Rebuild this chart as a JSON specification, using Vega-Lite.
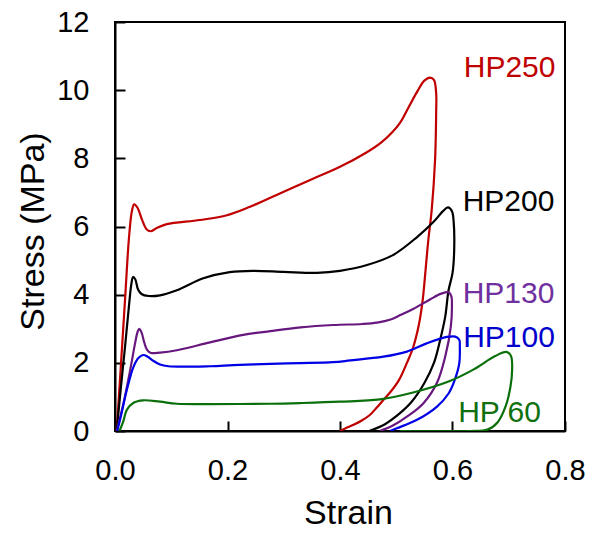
{
  "$schema": "https://vega.github.io/schema/vega-lite/v6.json",
  "width": 450,
  "height": 409,
  "autosize": {"type": "none"},
  "padding": {"left": 115, "top": 22, "right": 28, "bottom": 102},
  "background": "white",
  "config": {
    "view": {"stroke": "#000000", "strokeWidth": 2},
    "font": "Liberation Sans",
    "axis": {
      "grid": false,
      "domainColor": "#000000",
      "domainWidth": 2,
      "tickColor": "#000000",
      "tickWidth": 2,
      "labelColor": "#000000",
      "titleColor": "#000000",
      "labelFont": "Liberation Sans",
      "titleFont": "Liberation Sans",
      "labelFontSize": 29,
      "titleFontSize": 34,
      "titleFontWeight": "normal"
    }
  },
  "datasets": {
    "curves": [
      {"sample": "HP250", "i": 0, "strain": 0.003, "stress": 0},
      {"sample": "HP250", "i": 1, "strain": 0.010, "stress": 1.8},
      {"sample": "HP250", "i": 2, "strain": 0.018, "stress": 3.9},
      {"sample": "HP250", "i": 3, "strain": 0.025, "stress": 5.7},
      {"sample": "HP250", "i": 4, "strain": 0.030, "stress": 6.45},
      {"sample": "HP250", "i": 5, "strain": 0.034, "stress": 6.65},
      {"sample": "HP250", "i": 6, "strain": 0.040, "stress": 6.55},
      {"sample": "HP250", "i": 7, "strain": 0.048, "stress": 6.2},
      {"sample": "HP250", "i": 8, "strain": 0.056, "stress": 5.92},
      {"sample": "HP250", "i": 9, "strain": 0.063, "stress": 5.86},
      {"sample": "HP250", "i": 10, "strain": 0.075, "stress": 5.96},
      {"sample": "HP250", "i": 11, "strain": 0.092, "stress": 6.07},
      {"sample": "HP250", "i": 12, "strain": 0.151, "stress": 6.19},
      {"sample": "HP250", "i": 13, "strain": 0.199, "stress": 6.33},
      {"sample": "HP250", "i": 14, "strain": 0.240, "stress": 6.58},
      {"sample": "HP250", "i": 15, "strain": 0.293, "stress": 6.97},
      {"sample": "HP250", "i": 16, "strain": 0.353, "stress": 7.41},
      {"sample": "HP250", "i": 17, "strain": 0.400, "stress": 7.75},
      {"sample": "HP250", "i": 18, "strain": 0.447, "stress": 8.17},
      {"sample": "HP250", "i": 19, "strain": 0.473, "stress": 8.46},
      {"sample": "HP250", "i": 20, "strain": 0.492, "stress": 8.75},
      {"sample": "HP250", "i": 21, "strain": 0.507, "stress": 9.05},
      {"sample": "HP250", "i": 22, "strain": 0.522, "stress": 9.5},
      {"sample": "HP250", "i": 23, "strain": 0.537, "stress": 9.95},
      {"sample": "HP250", "i": 24, "strain": 0.550, "stress": 10.28},
      {"sample": "HP250", "i": 25, "strain": 0.560, "stress": 10.37},
      {"sample": "HP250", "i": 26, "strain": 0.567, "stress": 10.3},
      {"sample": "HP250", "i": 27, "strain": 0.571, "stress": 9.9},
      {"sample": "HP250", "i": 28, "strain": 0.571, "stress": 9.4},
      {"sample": "HP250", "i": 29, "strain": 0.569, "stress": 7.95},
      {"sample": "HP250", "i": 30, "strain": 0.563, "stress": 6.48},
      {"sample": "HP250", "i": 31, "strain": 0.557, "stress": 5.6},
      {"sample": "HP250", "i": 32, "strain": 0.552, "stress": 4.7},
      {"sample": "HP250", "i": 33, "strain": 0.547, "stress": 3.84},
      {"sample": "HP250", "i": 34, "strain": 0.540, "stress": 3.1},
      {"sample": "HP250", "i": 35, "strain": 0.530, "stress": 2.45},
      {"sample": "HP250", "i": 36, "strain": 0.519, "stress": 2.0},
      {"sample": "HP250", "i": 37, "strain": 0.505, "stress": 1.5},
      {"sample": "HP250", "i": 38, "strain": 0.490, "stress": 1.15},
      {"sample": "HP250", "i": 39, "strain": 0.477, "stress": 0.91},
      {"sample": "HP250", "i": 40, "strain": 0.465, "stress": 0.68},
      {"sample": "HP250", "i": 41, "strain": 0.453, "stress": 0.47},
      {"sample": "HP250", "i": 42, "strain": 0.438, "stress": 0.3},
      {"sample": "HP250", "i": 43, "strain": 0.424, "stress": 0.18},
      {"sample": "HP250", "i": 44, "strain": 0.410, "stress": 0.08},
      {"sample": "HP250", "i": 45, "strain": 0.400, "stress": 0},

      {"sample": "HP200", "i": 0, "strain": 0.003, "stress": 0},
      {"sample": "HP200", "i": 1, "strain": 0.010, "stress": 1.2},
      {"sample": "HP200", "i": 2, "strain": 0.018, "stress": 2.5},
      {"sample": "HP200", "i": 3, "strain": 0.025, "stress": 3.7},
      {"sample": "HP200", "i": 4, "strain": 0.029, "stress": 4.3},
      {"sample": "HP200", "i": 5, "strain": 0.032, "stress": 4.52},
      {"sample": "HP200", "i": 6, "strain": 0.036, "stress": 4.45},
      {"sample": "HP200", "i": 7, "strain": 0.041, "stress": 4.15},
      {"sample": "HP200", "i": 8, "strain": 0.047, "stress": 4.02},
      {"sample": "HP200", "i": 9, "strain": 0.060, "stress": 3.96},
      {"sample": "HP200", "i": 10, "strain": 0.080, "stress": 3.98},
      {"sample": "HP200", "i": 11, "strain": 0.110, "stress": 4.13},
      {"sample": "HP200", "i": 12, "strain": 0.157, "stress": 4.48},
      {"sample": "HP200", "i": 13, "strain": 0.204, "stress": 4.66},
      {"sample": "HP200", "i": 14, "strain": 0.245, "stress": 4.7},
      {"sample": "HP200", "i": 15, "strain": 0.300, "stress": 4.67},
      {"sample": "HP200", "i": 16, "strain": 0.359, "stress": 4.64},
      {"sample": "HP200", "i": 17, "strain": 0.400, "stress": 4.7},
      {"sample": "HP200", "i": 18, "strain": 0.448, "stress": 4.87},
      {"sample": "HP200", "i": 19, "strain": 0.494, "stress": 5.16},
      {"sample": "HP200", "i": 20, "strain": 0.537, "stress": 5.69},
      {"sample": "HP200", "i": 21, "strain": 0.566, "stress": 6.13},
      {"sample": "HP200", "i": 22, "strain": 0.583, "stress": 6.45},
      {"sample": "HP200", "i": 23, "strain": 0.592, "stress": 6.56},
      {"sample": "HP200", "i": 24, "strain": 0.599, "stress": 6.45},
      {"sample": "HP200", "i": 25, "strain": 0.602, "stress": 6.15},
      {"sample": "HP200", "i": 26, "strain": 0.603, "stress": 5.31},
      {"sample": "HP200", "i": 27, "strain": 0.600, "stress": 4.63},
      {"sample": "HP200", "i": 28, "strain": 0.593, "stress": 4.13},
      {"sample": "HP200", "i": 29, "strain": 0.587, "stress": 3.35},
      {"sample": "HP200", "i": 30, "strain": 0.578, "stress": 2.67},
      {"sample": "HP200", "i": 31, "strain": 0.567, "stress": 2.0},
      {"sample": "HP200", "i": 32, "strain": 0.550, "stress": 1.41},
      {"sample": "HP200", "i": 33, "strain": 0.527, "stress": 0.85},
      {"sample": "HP200", "i": 34, "strain": 0.505, "stress": 0.5},
      {"sample": "HP200", "i": 35, "strain": 0.480, "stress": 0.2},
      {"sample": "HP200", "i": 36, "strain": 0.452, "stress": 0},

      {"sample": "HP130", "i": 0, "strain": 0.003, "stress": 0},
      {"sample": "HP130", "i": 1, "strain": 0.015, "stress": 0.81},
      {"sample": "HP130", "i": 2, "strain": 0.027, "stress": 1.79},
      {"sample": "HP130", "i": 3, "strain": 0.036, "stress": 2.6},
      {"sample": "HP130", "i": 4, "strain": 0.040, "stress": 2.9},
      {"sample": "HP130", "i": 5, "strain": 0.043, "stress": 3.0},
      {"sample": "HP130", "i": 6, "strain": 0.047, "stress": 2.9},
      {"sample": "HP130", "i": 7, "strain": 0.052, "stress": 2.6},
      {"sample": "HP130", "i": 8, "strain": 0.057, "stress": 2.38},
      {"sample": "HP130", "i": 9, "strain": 0.064, "stress": 2.29},
      {"sample": "HP130", "i": 10, "strain": 0.080, "stress": 2.3},
      {"sample": "HP130", "i": 11, "strain": 0.110, "stress": 2.37},
      {"sample": "HP130", "i": 12, "strain": 0.169, "stress": 2.6},
      {"sample": "HP130", "i": 13, "strain": 0.228, "stress": 2.82},
      {"sample": "HP130", "i": 14, "strain": 0.276, "stress": 2.93},
      {"sample": "HP130", "i": 15, "strain": 0.330, "stress": 3.04},
      {"sample": "HP130", "i": 16, "strain": 0.388, "stress": 3.11},
      {"sample": "HP130", "i": 17, "strain": 0.440, "stress": 3.14},
      {"sample": "HP130", "i": 18, "strain": 0.466, "stress": 3.18},
      {"sample": "HP130", "i": 19, "strain": 0.490, "stress": 3.27},
      {"sample": "HP130", "i": 20, "strain": 0.507, "stress": 3.4},
      {"sample": "HP130", "i": 21, "strain": 0.530, "stress": 3.58},
      {"sample": "HP130", "i": 22, "strain": 0.560, "stress": 3.86},
      {"sample": "HP130", "i": 23, "strain": 0.580, "stress": 4.03},
      {"sample": "HP130", "i": 24, "strain": 0.593, "stress": 4.07},
      {"sample": "HP130", "i": 25, "strain": 0.598, "stress": 3.95},
      {"sample": "HP130", "i": 26, "strain": 0.599, "stress": 3.7},
      {"sample": "HP130", "i": 27, "strain": 0.597, "stress": 3.06},
      {"sample": "HP130", "i": 28, "strain": 0.587, "stress": 2.18},
      {"sample": "HP130", "i": 29, "strain": 0.572, "stress": 1.4},
      {"sample": "HP130", "i": 30, "strain": 0.548, "stress": 0.81},
      {"sample": "HP130", "i": 31, "strain": 0.519, "stress": 0.42},
      {"sample": "HP130", "i": 32, "strain": 0.494, "stress": 0.16},
      {"sample": "HP130", "i": 33, "strain": 0.471, "stress": 0},

      {"sample": "HP100", "i": 0, "strain": 0.004, "stress": 0},
      {"sample": "HP100", "i": 1, "strain": 0.010, "stress": 0.4},
      {"sample": "HP100", "i": 2, "strain": 0.021, "stress": 1.2},
      {"sample": "HP100", "i": 3, "strain": 0.033, "stress": 1.89},
      {"sample": "HP100", "i": 4, "strain": 0.042, "stress": 2.15},
      {"sample": "HP100", "i": 5, "strain": 0.050, "stress": 2.23},
      {"sample": "HP100", "i": 6, "strain": 0.058, "stress": 2.18},
      {"sample": "HP100", "i": 7, "strain": 0.068, "stress": 2.06},
      {"sample": "HP100", "i": 8, "strain": 0.080, "stress": 1.95},
      {"sample": "HP100", "i": 9, "strain": 0.095, "stress": 1.9},
      {"sample": "HP100", "i": 10, "strain": 0.169, "stress": 1.9},
      {"sample": "HP100", "i": 11, "strain": 0.210, "stress": 1.93},
      {"sample": "HP100", "i": 12, "strain": 0.276, "stress": 1.97},
      {"sample": "HP100", "i": 13, "strain": 0.329, "stress": 1.99},
      {"sample": "HP100", "i": 14, "strain": 0.388, "stress": 2.02},
      {"sample": "HP100", "i": 15, "strain": 0.418, "stress": 2.07},
      {"sample": "HP100", "i": 16, "strain": 0.477, "stress": 2.18},
      {"sample": "HP100", "i": 17, "strain": 0.519, "stress": 2.33},
      {"sample": "HP100", "i": 18, "strain": 0.554, "stress": 2.57},
      {"sample": "HP100", "i": 19, "strain": 0.590, "stress": 2.76},
      {"sample": "HP100", "i": 20, "strain": 0.605, "stress": 2.77},
      {"sample": "HP100", "i": 21, "strain": 0.612, "stress": 2.68},
      {"sample": "HP100", "i": 22, "strain": 0.613, "stress": 2.47},
      {"sample": "HP100", "i": 23, "strain": 0.612, "stress": 1.98},
      {"sample": "HP100", "i": 24, "strain": 0.604, "stress": 1.5},
      {"sample": "HP100", "i": 25, "strain": 0.593, "stress": 1.1},
      {"sample": "HP100", "i": 26, "strain": 0.572, "stress": 0.71},
      {"sample": "HP100", "i": 27, "strain": 0.536, "stress": 0.32},
      {"sample": "HP100", "i": 28, "strain": 0.501, "stress": 0.08},
      {"sample": "HP100", "i": 29, "strain": 0.489, "stress": 0},

      {"sample": "HP 60", "i": 0, "strain": 0.008, "stress": 0},
      {"sample": "HP 60", "i": 1, "strain": 0.015, "stress": 0.3},
      {"sample": "HP 60", "i": 2, "strain": 0.021, "stress": 0.62},
      {"sample": "HP 60", "i": 3, "strain": 0.033, "stress": 0.83},
      {"sample": "HP 60", "i": 4, "strain": 0.050, "stress": 0.9},
      {"sample": "HP 60", "i": 5, "strain": 0.080, "stress": 0.86},
      {"sample": "HP 60", "i": 6, "strain": 0.110, "stress": 0.8},
      {"sample": "HP 60", "i": 7, "strain": 0.169, "stress": 0.79},
      {"sample": "HP 60", "i": 8, "strain": 0.276, "stress": 0.8},
      {"sample": "HP 60", "i": 9, "strain": 0.329, "stress": 0.82},
      {"sample": "HP 60", "i": 10, "strain": 0.400, "stress": 0.86},
      {"sample": "HP 60", "i": 11, "strain": 0.471, "stress": 0.93},
      {"sample": "HP 60", "i": 12, "strain": 0.530, "stress": 1.13},
      {"sample": "HP 60", "i": 13, "strain": 0.593, "stress": 1.45},
      {"sample": "HP 60", "i": 14, "strain": 0.637, "stress": 1.8},
      {"sample": "HP 60", "i": 15, "strain": 0.676, "stress": 2.2},
      {"sample": "HP 60", "i": 16, "strain": 0.696, "stress": 2.32},
      {"sample": "HP 60", "i": 17, "strain": 0.704, "stress": 2.2},
      {"sample": "HP 60", "i": 18, "strain": 0.706, "stress": 1.8},
      {"sample": "HP 60", "i": 19, "strain": 0.703, "stress": 1.3},
      {"sample": "HP 60", "i": 20, "strain": 0.695, "stress": 0.75},
      {"sample": "HP 60", "i": 21, "strain": 0.680, "stress": 0.25},
      {"sample": "HP 60", "i": 22, "strain": 0.662, "stress": 0.04},
      {"sample": "HP 60", "i": 23, "strain": 0.630, "stress": 0},
      {"sample": "HP 60", "i": 24, "strain": 0.507, "stress": 0}
    ],
    "labels": [
      {"sample": "HP250", "strain": 0.620, "stress": 10.39},
      {"sample": "HP200", "strain": 0.618, "stress": 6.45},
      {"sample": "HP130", "strain": 0.618, "stress": 3.77},
      {"sample": "HP100", "strain": 0.619, "stress": 2.47},
      {"sample": "HP 60", "strain": 0.610, "stress": 0.25}
    ]
  },
  "layer": [
    {
      "data": {"name": "curves"},
      "mark": {"type": "line", "strokeWidth": 2.2, "interpolate": "catmull-rom", "clip": true},
      "encoding": {
        "x": {
          "field": "strain", "type": "quantitative",
          "scale": {"domain": [0, 0.8], "nice": false, "zero": false},
          "axis": {
            "title": "Strain",
            "values": [0, 0.2, 0.4, 0.6, 0.8],
            "format": ".1f",
            "tickSize": -10,
            "labelPadding": 35,
            "labelFlush": false,
            "labelOverlap": false,
            "titleX": 233,
            "titleY": 92,
            "titleAlign": "center",
            "titleBaseline": "alphabetic"
          }
        },
        "y": {
          "field": "stress", "type": "quantitative",
          "scale": {"domain": [0, 12], "nice": false},
          "axis": {
            "title": "Stress (MPa)",
            "values": [0, 2, 4, 6, 8, 10, 12],
            "format": "d",
            "tickSize": -10,
            "labelPadding": 36,
            "labelFlush": false,
            "labelOverlap": false,
            "titleX": -72,
            "titleY": 209,
            "titleAngle": -90,
            "titleAlign": "center",
            "titleBaseline": "alphabetic"
          }
        },
        "color": {
          "field": "sample", "type": "nominal",
          "scale": {"domain": ["HP250", "HP200", "HP130", "HP100", "HP 60"], "range": ["#C00000", "#000000", "#68177F", "#0000E6", "#0B700B"]},
          "legend": null
        },
        "order": {"field": "i", "type": "quantitative"}
      }
    },
    {
      "data": {"name": "labels"},
      "mark": {"type": "text", "align": "left", "baseline": "alphabetic", "fontSize": 30, "font": "Liberation Sans"},
      "encoding": {
        "x": {"field": "strain", "type": "quantitative"},
        "y": {"field": "stress", "type": "quantitative"},
        "text": {"field": "sample"},
        "color": {
          "field": "sample", "type": "nominal",
          "scale": {"domain": ["HP250", "HP200", "HP130", "HP100", "HP 60"], "range": ["#C00000", "#000000", "#7030A0", "#0000CC", "#107010"]},
          "legend": null
        }
      }
    }
  ],
  "resolve": {"scale": {"color": "independent"}}
}
